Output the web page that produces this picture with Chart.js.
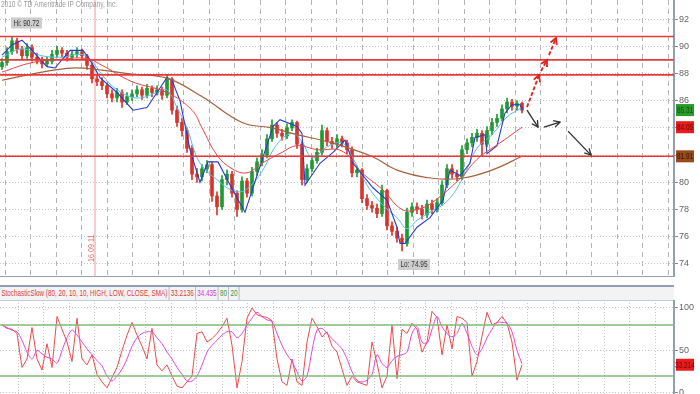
<!DOCTYPE html>
<html>
<head>
<meta charset="utf-8">
<script src="https://cdn.jsdelivr.net/npm/chart.js@4.4.0/dist/chart.umd.min.js"></script>
<style>
  body { margin: 0; background: #fff; width: 700px; height: 394px; overflow: hidden; position: relative; }
  #main { position: absolute; left: 0; top: 0; }
  #stoch { position: absolute; left: 0; top: 300px; }
  #hdr { position: absolute; left: 0; top: 285px; width: 674px; height: 13px; background: #f3f3f3;
         border-top: 2px solid #8fa0b4; border-bottom: 1px solid #c4ccd6; overflow: hidden; }
  #hdr div { transform: scaleX(0.7); transform-origin: 0 0; white-space: nowrap;
             font: 9px "Liberation Sans", Arial, sans-serif; line-height: 13px; }
  #hdr span { display: inline-block; padding: 0 2px; border-right: 1px solid #9aa6b4; }
</style>
</head>
<body>
<canvas id="main" width="700" height="277"></canvas>
<div id="hdr"><div><span style="color:#e23b3b">StochasticSlow (80, 20, 10, 10, HIGH, LOW, CLOSE, SMA)</span><span id="hK" style="color:#e23b3b"></span><span id="hD" style="color:#d23ad2"></span><span style="color:#3a9a3a">80</span><span style="color:#3a9a3a">20</span></div></div>
<canvas id="stoch" width="700" height="94"></canvas>
<script>
// daily candles, one per bar index
var opens = [88.5, 88.8, 89.6, 90.4, 89.8, 89.3, 89.9, 89.2, 89.0, 88.7,
  88.9, 89.4, 89.7, 89.5, 89.2, 89.4, 89.6, 89.3, 88.6, 87.6,
  87.4, 87.1, 86.5, 86.2, 86.6, 85.9, 86.3, 86.5, 86.8, 86.4,
  86.9, 86.6, 86.8, 86.4, 87.6, 85.3, 84.4, 83.8, 82.5, 80.6,
  80.4, 81.0, 81.3, 79.0, 78.2, 80.2, 80.6, 79.2, 78.0, 80.1,
  79.2, 80.8, 81.5, 82.0, 83.2, 84.2, 83.6, 83.4, 84.0, 84.4,
  82.8, 80.2, 81.0, 81.6, 82.2, 83.8, 83.0, 82.8, 83.2, 82.9,
  82.4, 80.7, 80.9, 78.8, 78.3, 78.1, 77.7, 79.4, 76.8, 76.4,
  75.9, 75.5, 77.8, 78.2, 78.0, 77.6, 78.4, 78.0, 78.5, 79.8,
  81.0, 80.6, 80.4, 82.4, 82.9, 83.3, 83.6, 82.8, 83.8, 84.4,
  84.7, 85.4, 85.9, 85.6, 85.8];
var closes = [88.8, 89.6, 90.4, 89.8, 89.3, 89.9, 89.2, 89.0, 88.7, 88.9,
  89.4, 89.7, 89.5, 89.2, 89.4, 89.6, 89.3, 88.6, 87.6, 87.4,
  87.1, 86.5, 86.2, 86.6, 85.9, 86.3, 86.5, 86.8, 86.4, 86.9,
  86.6, 86.8, 86.4, 87.6, 85.3, 84.4, 83.8, 82.5, 80.6, 80.4,
  81.0, 81.3, 79.0, 78.2, 80.2, 80.6, 79.2, 78.0, 80.1, 79.2,
  80.8, 81.5, 82.0, 83.2, 84.2, 83.6, 83.4, 84.0, 84.4, 82.8,
  80.2, 81.0, 81.6, 82.2, 83.8, 83.0, 82.8, 83.2, 82.9, 82.4,
  80.7, 80.9, 78.8, 78.3, 78.1, 77.7, 79.4, 76.8, 76.4, 75.9,
  75.5, 77.8, 78.2, 78.0, 77.6, 78.4, 78.0, 78.5, 79.8, 81.0,
  80.6, 80.4, 82.4, 82.9, 83.3, 83.6, 82.8, 83.8, 84.4, 84.7,
  85.4, 85.9, 85.6, 85.8, 85.31];
var highs = [89.1, 89.9, 90.72, 90.6, 90.0, 90.2, 90.1, 89.5, 89.2, 89.2,
  89.7, 90.0, 89.9, 89.7, 89.7, 89.9, 89.8, 89.4, 88.8, 87.9,
  87.7, 87.3, 86.8, 86.9, 86.8, 86.6, 86.8, 87.1, 87.0, 87.2,
  87.1, 87.1, 87.0, 87.9, 87.7, 85.6, 84.7, 84.0, 82.7, 81.0,
  81.3, 81.6, 81.5, 79.3, 80.5, 80.9, 80.8, 79.4, 80.4, 80.3,
  81.1, 81.8, 82.4, 83.5, 84.6, 84.4, 83.9, 84.3, 84.6, 84.5,
  83.0, 81.3, 81.9, 82.5, 84.2, 84.0, 83.3, 83.5, 83.4, 83.1,
  82.6, 81.2, 81.0, 79.1, 78.6, 78.4, 79.8, 79.5, 77.1, 76.7,
  76.2, 78.1, 78.5, 78.5, 78.3, 78.7, 78.7, 78.8, 80.1, 81.3,
  81.3, 80.9, 82.7, 83.2, 83.6, 83.9, 83.8, 84.1, 84.7, 85.0,
  85.7, 86.2, 86.1, 86.0, 85.9];
var lows = [88.3, 88.6, 89.4, 89.5, 89.0, 89.1, 88.9, 88.7, 88.4, 88.5,
  88.7, 89.2, 89.2, 88.9, 89.0, 89.2, 89.0, 88.3, 87.3, 87.1,
  86.8, 86.2, 85.9, 85.9, 85.5, 85.7, 86.0, 86.3, 86.1, 86.2,
  86.3, 86.4, 86.1, 86.2, 85.0, 84.1, 83.4, 82.2, 80.2, 80.0,
  80.1, 80.7, 78.6, 77.6, 78.0, 79.8, 78.9, 77.5, 77.8, 78.9,
  79.0, 80.5, 81.2, 81.8, 83.0, 83.3, 83.1, 83.2, 83.8, 82.5,
  79.8, 80.0, 80.8, 81.4, 82.0, 82.7, 82.5, 82.6, 82.6, 82.1,
  80.4, 80.4, 78.5, 78.0, 77.8, 77.4, 77.5, 76.5, 76.1, 75.6,
  74.95, 75.3, 77.5, 77.7, 77.3, 77.4, 77.7, 77.8, 78.3, 79.6,
  80.3, 80.1, 80.2, 82.1, 82.6, 83.0, 81.9, 82.6, 83.5, 84.1,
  84.5, 85.1, 85.3, 85.3, 85.1];

// moving averages, read at a few bar positions
var slowMaAt = [0, 8, 14, 20, 26, 33, 40, 48, 54, 59, 66, 74, 79, 86, 92, 98, 104];
var slowMa = [87.5, 88.1, 88.4, 88.25, 87.95, 87.66, 86.3, 84.4, 84.0, 83.5, 82.9, 81.9, 80.9, 80.3, 80.3, 80.9, 81.91];
var midMaAt = [0, 6, 12, 17, 20, 26, 33, 38, 40, 43, 46, 49, 52, 56, 59, 63, 68, 72, 76, 80, 83, 86, 92, 94, 96, 100, 104];
var midMa = [88.1, 88.8, 89.05, 89.1, 88.6, 87.4, 86.6, 85.3, 84.0, 82.0, 81.0, 80.7, 81.4, 82.2, 82.7, 82.4, 82.3, 80.7, 79.5, 78.0, 78.0, 78.5, 80.4, 81.3, 82.0, 83.0, 84.05];
var fastMaAt = [0, 4, 8, 12, 16, 18, 20, 23, 27, 31, 33, 35, 37, 39, 41, 43, 45, 47, 49, 52, 55, 58, 60, 62, 65, 68, 70, 73, 76, 79, 81, 83, 86, 89, 92, 95, 98, 101, 104];
var fastMa = [89.2, 89.8, 89.3, 89.2, 89.4, 88.9, 87.9, 86.8, 86.2, 86.6, 86.8, 85.5, 84.0, 81.8, 80.8, 80.2, 79.6, 79.3, 79.5, 80.8, 82.8, 83.6, 83.0, 81.8, 82.6, 82.9, 81.9, 79.8, 78.4, 77.4, 76.6, 77.2, 77.9, 78.6, 80.2, 82.5, 83.5, 84.8, 85.5];
var channelAt = [0, 2, 4, 6, 9, 10.6, 13.6, 16.2, 17.6, 19.6, 23, 26.2, 29, 31, 33, 34, 35.6, 37.6, 39.6, 41.2, 43.2, 46.2, 48.6, 54.2, 55.6, 59, 60, 60.6, 63.6, 66.2, 68.6, 70.2, 74.2, 77, 79, 79.6, 80.6, 83, 85.6, 88.2, 89.6, 91.6, 93.6, 94.6, 96.6, 97, 99, 100.6, 102, 103.6, 104.2];
var channel = [89.35, 90.1, 90.45, 89.7, 88.5, 88.4, 89.7, 89.7, 89.0, 87.7, 86.6, 85.3, 85.5, 86.6, 87.7, 87.5, 86.0, 82.4, 80.0, 81.5, 81.5, 79.4, 77.8, 84.1, 84.6, 84.1, 83.6, 79.8, 81.4, 82.2, 83.1, 81.4, 79.6, 78.7, 76.7, 75.5, 75.5, 76.7, 77.4, 78.7, 80.9, 80.5, 81.4, 83.3, 83.5, 82.1, 82.7, 85.1, 85.7, 85.7, 85.3];

var levels = [90.72, 89.0, 87.9, 81.91];
var priceTicks = [74, 76, 78, 80, 82, 84, 86, 88, 90, 92];
var dateMark = 18.6;
var dateLabel = "16.09.11";

// drawn arrows: [fromBar, fromPrice, toBar, toPrice]
var bullArrows = [[105, 85.53, 107.4, 87.88], [107.8, 88.18, 109, 88.99], [109.4, 89.35, 110.8, 90.6]];
var bearArrows = [[105, 85.3, 107.2, 84.06], [108.4, 84.06, 111.6, 84.43], [113.2, 83.76, 117.8, 82.0]];

// slow stochastic
var stochK = [80, 76, 75, 70, 30, 40, 77, 40, 27, 58,
  30, 90, 75, 60, 37, 88, 40, 33, 45, 22,
  13, 6, 18, 30, 50, 68, 83, 68, 55, 40,
  76, 33, 26, 33, 20, 8, 6, 13, 20, 70,
  72, 60, 64, 70, 78, 88, 56, 6, 37, 88,
  100, 92, 90, 89, 85, 40, 13, 9, 40, 13,
  9, 60, 88, 78, 66, 72, 55, 48, 28, 9,
  20, 13, 11, 9, 60, 35, 6, 20, 80, 17,
  75, 70, 82, 75, 48, 60, 96, 89, 45, 80,
  52, 90, 88, 83, 20, 37, 67, 95, 80, 83,
  90, 82, 60, 15, 33.2136];
var stochD = [80, 77, 74, 72, 62, 48, 40, 50, 46, 42,
  40, 35, 50, 65, 74, 68, 60, 52, 45, 38,
  32, 20, 14, 20, 28, 40, 55, 65, 70, 72,
  72, 65, 58, 48, 40, 30, 22, 14, 14, 20,
  33, 48, 56, 62, 68, 72, 72, 65, 70, 80,
  88, 95, 90, 86, 84, 70, 56, 45, 37, 25,
  14, 20, 50, 74, 76, 70, 64, 58, 52, 40,
  25, 15, 13, 15, 22, 45, 35, 30, 38, 43,
  45, 48, 70, 78, 60, 58, 75, 90, 78, 70,
  66, 70, 82, 70, 55, 45, 52, 65, 75, 83,
  83, 82, 72, 50, 34.435];
var stochLevels = [80, 20];
var stochTicks = [0, 50, 100];

var FONT = '"Liberation Sans", Arial, sans-serif';
var xMin = -0.4, xMax = 134.4;
var gridCols = [];
for (var g = 3.2; g < xMax; g += 5.1) gridCols.push(g);

function pts(xs, ys) {
  return xs.map(function(v, i) { return { x: v, y: ys[i] }; });
}
function bars(a, b) {
  return closes.map(function(c, i) { return { x: i, y: [a[i], b[i]] }; });
}
var candleColors = closes.map(function(c, i) { return c >= opens[i] ? "#1f9a34" : "#d8342c"; });

// condensed text, like the terminal's narrow font
function narrow(ctx, text, x, y, align, size, color) {
  ctx.save();
  ctx.font = size + "px " + FONT;
  ctx.fillStyle = color;
  ctx.textBaseline = "middle";
  ctx.textAlign = align;
  ctx.translate(x, y);
  ctx.scale(0.72, 1);
  ctx.fillText(text, 0, 0);
  ctx.restore();
}
function tag(ctx, x, y, text, bg, fg) {
  ctx.fillStyle = bg;
  ctx.fillRect(x, y - 6, 18, 12);
  narrow(ctx, text, x + 9, y + 0.5, "center", 9, fg);
}
function arrow(ctx, x1, y1, x2, y2, dash) {
  ctx.setLineDash(dash);
  ctx.beginPath(); ctx.moveTo(x1, y1); ctx.lineTo(x2, y2); ctx.stroke();
  var ang = Math.atan2(y2 - y1, x2 - x1);
  ctx.setLineDash([]);
  ctx.beginPath();
  ctx.moveTo(x2 - 7 * Math.cos(ang - 0.5), y2 - 7 * Math.sin(ang - 0.5));
  ctx.lineTo(x2, y2);
  ctx.lineTo(x2 - 7 * Math.cos(ang + 0.5), y2 - 7 * Math.sin(ang + 0.5));
  ctx.stroke();
}
function noteBox(ctx, x, y, text) {
  ctx.font = "9px " + FONT;
  var w = ctx.measureText(text).width * 0.72 + 5;
  ctx.fillStyle = "#cdcdcd";
  ctx.fillRect(x, y, w, 11);
  narrow(ctx, text, x + 2.5, y + 6, "left", 9, "#333");
}

var mainOverlay = {
  id: "mainOverlay",
  beforeDatasetsDraw: function(chart) {
    var ctx = chart.ctx, a = chart.chartArea, x = chart.scales.x;
    var dx = x.getPixelForValue(dateMark);
    ctx.save();
    ctx.strokeStyle = "#f29a9a";
    ctx.lineWidth = 1;
    ctx.beginPath(); ctx.moveTo(dx, a.top); ctx.lineTo(dx, a.bottom); ctx.stroke();
    ctx.translate(dx - 1, 262);
    ctx.rotate(-Math.PI / 2);
    ctx.scale(0.8, 1);
    ctx.fillStyle = "#e27575";
    ctx.font = "9px " + FONT;
    ctx.textAlign = "left";
    ctx.textBaseline = "alphabetic";
    ctx.fillText(dateLabel, 0, 0);
    ctx.restore();
  },
  afterDraw: function(chart) {
    var ctx = chart.ctx, x = chart.scales.x, y = chart.scales.y;
    ctx.save();
    narrow(ctx, "2010 \u00a9 TD Ameritrade IP Company, Inc.", 1, 5, "left", 9, "#9a9a9a");

    var hi = highs.indexOf(Math.max.apply(null, highs));
    var lo = lows.indexOf(Math.min.apply(null, lows));
    noteBox(ctx, x.getPixelForValue(hi) - 1, y.getPixelForValue(highs[hi]) - 19, "Hi: " + highs[hi].toFixed(2));
    noteBox(ctx, x.getPixelForValue(lo) - 4, y.getPixelForValue(lows[lo]) + 8, "Lo: " + lows[lo].toFixed(2));

    ctx.lineWidth = 1.8;
    ctx.strokeStyle = "#e3201b";
    bullArrows.forEach(function(s) {
      arrow(ctx, x.getPixelForValue(s[0]), y.getPixelForValue(s[1]), x.getPixelForValue(s[2]), y.getPixelForValue(s[3]), [4, 2]);
    });
    ctx.lineWidth = 1.3;
    ctx.strokeStyle = "#2e2e2e";
    bearArrows.forEach(function(s) {
      arrow(ctx, x.getPixelForValue(s[0]), y.getPixelForValue(s[1]), x.getPixelForValue(s[2]), y.getPixelForValue(s[3]), []);
    });

    var tx = chart.chartArea.right + 2;
    tag(ctx, tx, y.getPixelForValue(closes[closes.length - 1]), closes[closes.length - 1].toFixed(2), "#2a9a2a", "#1a4a1a");
    tag(ctx, tx, y.getPixelForValue(midMa[midMa.length - 1]), midMa[midMa.length - 1].toFixed(2), "#e81c1c", "#6a0a0a");
    tag(ctx, tx, y.getPixelForValue(slowMa[slowMa.length - 1]), slowMa[slowMa.length - 1].toFixed(2), "#9a4a1a", "#2a1a0a");
    ctx.restore();
  }
};

function lineSet(data, color, width, tension) {
  return { type: "line", data: data, borderColor: color, borderWidth: width, pointRadius: 0, tension: tension || 0, fill: false };
}

var mainSets = [];
levels.forEach(function(v) {
  mainSets.push(lineSet([{ x: xMin, y: v }, { x: xMax, y: v }], "#e8383a", 1.6));
});
mainSets.push(lineSet(pts(slowMaAt, slowMa), "#a5603c", 1.2, 0.4));
mainSets.push(lineSet(pts(midMaAt, midMa), "#e84545", 1, 0.4));
mainSets.push(lineSet(pts(channelAt, channel), "#2a3ad0", 1.1, 0));
mainSets.push(lineSet(pts(fastMaAt, fastMa), "#55bfe6", 1, 0.4));
mainSets.push({ type: "bar", data: bars(lows, highs), backgroundColor: candleColors, barThickness: 1, grouped: false });
mainSets.push({ type: "bar", data: bars(opens, closes), backgroundColor: candleColors, barThickness: 3, grouped: false });

new Chart(document.getElementById("main"), {
  type: "bar",
  data: { datasets: mainSets },
  options: {
    responsive: false,
    animation: false,
    layout: { padding: 0 },
    plugins: { legend: { display: false }, tooltip: { enabled: false } },
    scales: {
      x: {
        type: "linear", min: xMin, max: xMax, offset: false,
        afterBuildTicks: function(s) { s.ticks = gridCols.map(function(v) { return { value: v }; }); },
        ticks: { display: false },
        grid: { color: "#b4b4b4", drawTicks: false },
        border: { display: true, color: "#8fa0b4", width: 2, dash: [5, 4] }
      },
      y: {
        position: "right", min: 73.04, max: 93.4,
        afterBuildTicks: function(s) { s.ticks = priceTicks.map(function(v) { return { value: v }; }); },
        afterFit: function(s) { s.width = 26; s.paddingTop = 0; s.paddingBottom = 0; },
        ticks: { color: "#666", font: { family: FONT, size: 9 }, padding: 1 },
        grid: { color: "#c4c4c4", tickLength: 4, tickColor: "#8a8a8a", tickBorderDash: [] },
        border: { display: true, color: "#8fa0b4", width: 2, dash: [1, 2] }
      }
    }
  },
  plugins: [mainOverlay]
});

document.getElementById("hK").textContent = stochK[stochK.length - 1];
document.getElementById("hD").textContent = stochD[stochD.length - 1];

var stochOverlay = {
  id: "stochOverlay",
  afterDraw: function(chart) {
    var ctx = chart.ctx, y = chart.scales.y;
    var v = stochK[stochK.length - 1];
    tag(ctx, chart.chartArea.right + 2, y.getPixelForValue(v), v.toFixed(3), "#e81c1c", "#6a0a0a");
  }
};

var stochSets = stochLevels.map(function(v) {
  return lineSet([{ x: xMin, y: v }, { x: xMax, y: v }], "#7cbb74", 1.6);
});
stochSets.push(lineSet(stochD.map(function(v, i) { return { x: i, y: v }; }), "#e048e0", 1, 0.3));
stochSets.push(lineSet(stochK.map(function(v, i) { return { x: i, y: v }; }), "#f04a4a", 1, 0));

new Chart(document.getElementById("stoch"), {
  type: "line",
  data: { datasets: stochSets },
  options: {
    responsive: false,
    animation: false,
    layout: { padding: 0 },
    plugins: { legend: { display: false }, tooltip: { enabled: false } },
    scales: {
      x: {
        type: "linear", min: xMin, max: xMax,
        afterBuildTicks: function(s) { s.ticks = gridCols.map(function(v) { return { value: v }; }); },
        ticks: { display: false },
        grid: { color: "#c4c4c4", drawTicks: false },
        border: { display: false, dash: [1, 2] }
      },
      y: {
        position: "right", min: -1.2, max: 109.4,
        afterBuildTicks: function(s) { s.ticks = stochTicks.map(function(v) { return { value: v }; }); },
        afterFit: function(s) { s.width = 26; s.paddingTop = 0; s.paddingBottom = 0; },
        ticks: { color: "#666", font: { family: FONT, size: 9 }, padding: 1 },
        grid: { color: "#c4c4c4", tickLength: 4, tickColor: "#8a8a8a", tickBorderDash: [] },
        border: { display: true, color: "#8fa0b4", width: 2, dash: [1, 2] }
      }
    }
  },
  plugins: [stochOverlay]
});
</script>
</body>
</html>
